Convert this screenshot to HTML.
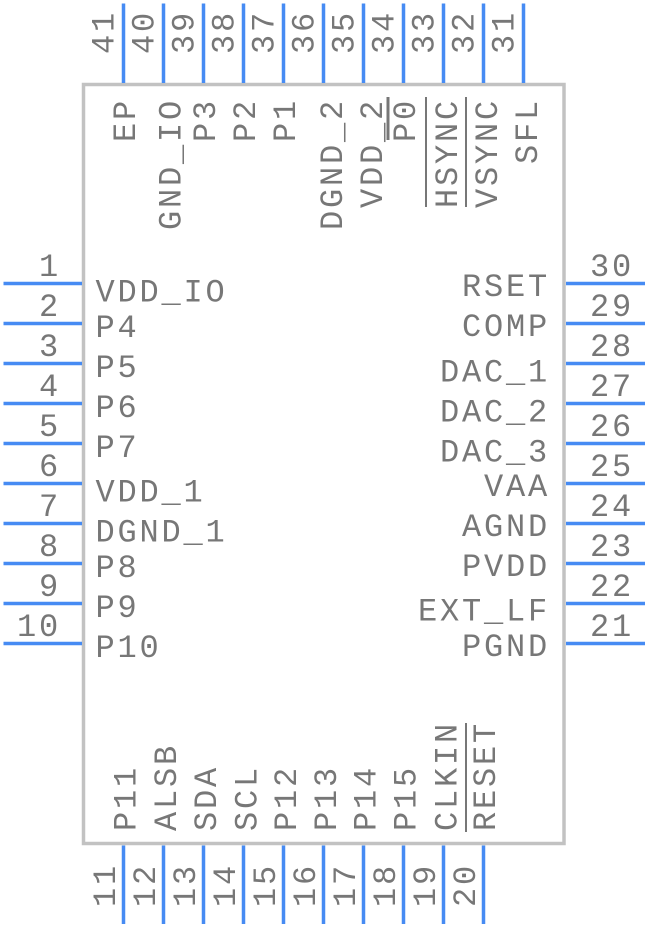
<!DOCTYPE html>
<html><head><meta charset="utf-8"><style>
html,body{margin:0;padding:0;background:#fff;}
svg{display:block;}
text{font-family:"Liberation Mono","DejaVu Sans Mono",monospace;font-size:32px;letter-spacing:2.8px;fill:#777777;}
</style></head><body>
<svg width="648" height="928" viewBox="0 0 648 928" xmlns="http://www.w3.org/2000/svg">
<rect x="83.5" y="84.5" width="480.5" height="759" fill="none" stroke="#c2c2c2" stroke-width="3.5"/>
<g stroke="#468bf3" stroke-width="3.5">
<line x1="123.5" y1="3.5" x2="123.5" y2="83"/>
<line x1="163.5" y1="3.5" x2="163.5" y2="83"/>
<line x1="203.5" y1="3.5" x2="203.5" y2="83"/>
<line x1="243.5" y1="3.5" x2="243.5" y2="83"/>
<line x1="283.5" y1="3.5" x2="283.5" y2="83"/>
<line x1="323.5" y1="3.5" x2="323.5" y2="83"/>
<line x1="363.5" y1="3.5" x2="363.5" y2="83"/>
<line x1="403.5" y1="3.5" x2="403.5" y2="83"/>
<line x1="443.5" y1="3.5" x2="443.5" y2="83"/>
<line x1="483.5" y1="3.5" x2="483.5" y2="83"/>
<line x1="523.5" y1="3.5" x2="523.5" y2="83"/>
<line x1="123.5" y1="845.5" x2="123.5" y2="924"/>
<line x1="163.5" y1="845.5" x2="163.5" y2="924"/>
<line x1="203.5" y1="845.5" x2="203.5" y2="924"/>
<line x1="243.5" y1="845.5" x2="243.5" y2="924"/>
<line x1="283.5" y1="845.5" x2="283.5" y2="924"/>
<line x1="323.5" y1="845.5" x2="323.5" y2="924"/>
<line x1="363.5" y1="845.5" x2="363.5" y2="924"/>
<line x1="403.5" y1="845.5" x2="403.5" y2="924"/>
<line x1="443.5" y1="845.5" x2="443.5" y2="924"/>
<line x1="483.5" y1="845.5" x2="483.5" y2="924"/>
<line x1="3.5" y1="283.5" x2="82" y2="283.5"/>
<line x1="3.5" y1="323.5" x2="82" y2="323.5"/>
<line x1="3.5" y1="363.5" x2="82" y2="363.5"/>
<line x1="3.5" y1="403.5" x2="82" y2="403.5"/>
<line x1="3.5" y1="443.5" x2="82" y2="443.5"/>
<line x1="3.5" y1="483.5" x2="82" y2="483.5"/>
<line x1="3.5" y1="523.5" x2="82" y2="523.5"/>
<line x1="3.5" y1="563.5" x2="82" y2="563.5"/>
<line x1="3.5" y1="603.5" x2="82" y2="603.5"/>
<line x1="3.5" y1="643.5" x2="82" y2="643.5"/>
<line x1="566" y1="283.5" x2="645" y2="283.5"/>
<line x1="566" y1="323.5" x2="645" y2="323.5"/>
<line x1="566" y1="363.5" x2="645" y2="363.5"/>
<line x1="566" y1="403.5" x2="645" y2="403.5"/>
<line x1="566" y1="443.5" x2="645" y2="443.5"/>
<line x1="566" y1="483.5" x2="645" y2="483.5"/>
<line x1="566" y1="523.5" x2="645" y2="523.5"/>
<line x1="566" y1="563.5" x2="645" y2="563.5"/>
<line x1="566" y1="603.5" x2="645" y2="603.5"/>
<line x1="566" y1="643.5" x2="645" y2="643.5"/>
</g>

<g stroke="#777777" stroke-width="2">
<line x1="388" y1="97" x2="388" y2="140" stroke-width="3"/>
<line x1="426" y1="97" x2="426" y2="207"/>
<line x1="466" y1="97" x2="466" y2="207"/>
<line x1="466" y1="723" x2="466" y2="832"/>
</g>

<text transform="translate(113.5,54) rotate(-90)">41</text>
<text transform="translate(153.5,54) rotate(-90)">40</text>
<text transform="translate(193.5,54) rotate(-90)">39</text>
<text transform="translate(233.5,54) rotate(-90)">38</text>
<text transform="translate(273.5,54) rotate(-90)">37</text>
<text transform="translate(313.5,54) rotate(-90)">36</text>
<text transform="translate(353.5,54) rotate(-90)">35</text>
<text transform="translate(393.5,54) rotate(-90)">34</text>
<text transform="translate(433.5,54) rotate(-90)">33</text>
<text transform="translate(473.5,54) rotate(-90)">32</text>
<text transform="translate(513.5,54) rotate(-90)">31</text>

<text transform="translate(135,142) rotate(-90)">EP</text>
<text transform="translate(180.5,230) rotate(-90)">GND_IO</text>
<text transform="translate(215,142) rotate(-90)">P3</text>
<text transform="translate(255,142) rotate(-90)">P2</text>
<text transform="translate(295,142) rotate(-90)">P1</text>
<text transform="translate(342,230) rotate(-90)">DGND_2</text>
<text transform="translate(382,208) rotate(-90)">VDD_2</text>
<text transform="translate(415,142) rotate(-90)">P0</text>
<text transform="translate(457,208) rotate(-90)">HSYNC</text>
<text transform="translate(497,208) rotate(-90)">VSYNC</text>
<text transform="translate(537,164) rotate(-90)">SFL</text>

<text transform="translate(115,907) rotate(-90)">11</text>
<text transform="translate(155,907) rotate(-90)">12</text>
<text transform="translate(195,907) rotate(-90)">13</text>
<text transform="translate(235,907) rotate(-90)">14</text>
<text transform="translate(275,907) rotate(-90)">15</text>
<text transform="translate(315,907) rotate(-90)">16</text>
<text transform="translate(355,907) rotate(-90)">17</text>
<text transform="translate(395,907) rotate(-90)">18</text>
<text transform="translate(435,907) rotate(-90)">19</text>
<text transform="translate(475,907) rotate(-90)">20</text>

<text transform="translate(135.5,831) rotate(-90)">P11</text>
<text transform="translate(176,831) rotate(-90)">ALSB</text>
<text transform="translate(216,831) rotate(-90)">SDA</text>
<text transform="translate(256.5,831) rotate(-90)">SCL</text>
<text transform="translate(296,831) rotate(-90)">P12</text>
<text transform="translate(336,831) rotate(-90)">P13</text>
<text transform="translate(375.5,831) rotate(-90)">P14</text>
<text transform="translate(415.5,831) rotate(-90)">P15</text>
<text transform="translate(456.5,831) rotate(-90)">CLKIN</text>
<text transform="translate(495,831) rotate(-90)">RESET</text>

<text x="39" y="276">1</text>
<text x="39" y="316">2</text>
<text x="39" y="356">3</text>
<text x="39" y="396">4</text>
<text x="39" y="436">5</text>
<text x="39" y="476">6</text>
<text x="39" y="516">7</text>
<text x="39" y="556">8</text>
<text x="39" y="596">9</text>
<text x="17" y="636">10</text>

<text x="95.5" y="301.5">VDD_IO</text>
<text x="95.5" y="337">P4</text>
<text x="95.5" y="377">P5</text>
<text x="95.5" y="417">P6</text>
<text x="95.5" y="457">P7</text>
<text x="95.5" y="501.5">VDD_1</text>
<text x="95.5" y="541.5">DGND_1</text>
<text x="95.5" y="577">P8</text>
<text x="95.5" y="617">P9</text>
<text x="95.5" y="657">P10</text>

<text x="590" y="276">30</text>
<text x="590" y="316">29</text>
<text x="590" y="356">28</text>
<text x="590" y="396">27</text>
<text x="590" y="436">26</text>
<text x="590" y="476">25</text>
<text x="590" y="516">24</text>
<text x="590" y="556">23</text>
<text x="590" y="596">22</text>
<text x="590" y="636">21</text>

<text x="462" y="296">RSET</text>
<text x="462" y="336">COMP</text>
<text x="440" y="381.5">DAC_1</text>
<text x="440" y="421.5">DAC_2</text>
<text x="440" y="461.5">DAC_3</text>
<text x="484" y="496">VAA</text>
<text x="462" y="536">AGND</text>
<text x="462" y="576">PVDD</text>
<text x="418" y="620.5">EXT_LF</text>
<text x="462" y="656">PGND</text>
</svg>
</body></html>
